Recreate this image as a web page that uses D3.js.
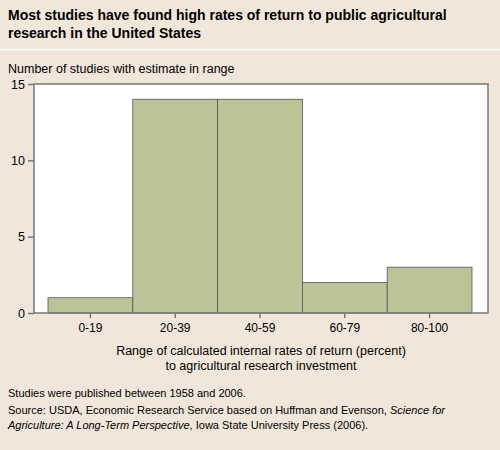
<!DOCTYPE html>
<html><head><meta charset="utf-8">
<script src="https://cdn.jsdelivr.net/npm/d3@7"></script>
<style>body{margin:0;background:#f0e6da;font-family:"Liberation Sans",Arial,sans-serif;}</style>
</head><body>
<svg id="c" width="500" height="450"></svg>
<script>
// data
const categories = ["0-19", "20-39", "40-59", "60-79", "80-100"];
const values = [1, 14, 14, 2, 3];
const yTicks = [0, 5, 10, 15];

const svg = d3.select("#c");
svg.append("rect").attr("width", 500).attr("height", 450).attr("fill", "#f0e6da");
svg.append("line").attr("x1", 0).attr("x2", 500).attr("y1", 49.5).attr("y2", 49.5)
  .attr("stroke", "#fff").attr("stroke-width", 1.5);

svg.append("text").attr("x", 8).attr("y", 20).attr("font-size", 14).attr("font-weight", "bold")
  .text("Most studies have found high rates of return to public agricultural");
svg.append("text").attr("x", 8).attr("y", 38).attr("font-size", 14).attr("font-weight", "bold")
  .text("research in the United States");
svg.append("text").attr("x", 8).attr("y", 73).attr("font-size", 12.5)
  .text("Number of studies with estimate in range");

const pLeft = 34, pRight = 488, pTop = 84, pBottom = 313;
const bx0 = 48, bx1 = 472;

svg.append("rect").attr("x", pLeft).attr("y", pTop).attr("width", pRight - pLeft).attr("height", pBottom - pTop)
  .attr("fill", "#fff");

const x = d3.scaleBand().domain(categories).range([bx0, bx1]).padding(0);
const y = d3.scaleLinear().domain([0, 15]).range([pBottom, pTop]);

svg.selectAll("rect.bar").data(values).enter().append("rect").attr("class", "bar")
  .attr("x", (d, i) => x(categories[i]))
  .attr("y", d => y(d))
  .attr("width", x.bandwidth())
  .attr("height", d => pBottom - y(d))
  .attr("fill", "#bcc397").attr("stroke", "#555").attr("stroke-width", 0.8);

svg.append("rect").attr("x", pLeft).attr("y", pTop).attr("width", pRight - pLeft).attr("height", pBottom - pTop)
  .attr("fill", "none").attr("stroke", "#777").attr("stroke-width", 1.5);

const ya = svg.append("g").attr("transform", `translate(${pLeft},0)`)
  .call(d3.axisLeft(y).tickValues(yTicks).tickSize(6).tickPadding(3));
ya.select(".domain").remove();
ya.selectAll("line").attr("stroke", "#777").attr("stroke-width", 1.5);
ya.selectAll("text").attr("font-size", 12.5).attr("fill", "#000").attr("font-family", "Liberation Sans, Arial, sans-serif");

const xa = svg.append("g").attr("transform", `translate(0,${pBottom})`)
  .call(d3.axisBottom(x).tickSize(5).tickPadding(5));
xa.select(".domain").remove();
xa.selectAll("line").attr("stroke", "#777").attr("stroke-width", 1.5);
xa.selectAll("text").attr("font-size", 12).attr("fill", "#000").attr("font-family", "Liberation Sans, Arial, sans-serif");

svg.append("text").attr("x", (pLeft + pRight) / 2).attr("y", 355).attr("text-anchor", "middle").attr("font-size", 12.5)
  .text("Range of calculated internal rates of return (percent)");
svg.append("text").attr("x", (pLeft + pRight) / 2).attr("y", 370).attr("text-anchor", "middle").attr("font-size", 12.5)
  .text("to agricultural research investment");

svg.append("text").attr("x", 8).attr("y", 397).attr("font-size", 11)
  .text("Studies were published between 1958 and 2006.");
const s = svg.append("text").attr("x", 8).attr("y", 414).attr("font-size", 11);
s.append("tspan").text("Source: USDA, Economic Research Service based on Huffman and Evenson, ");
s.append("tspan").attr("font-style", "italic").text("Science for");
const s2 = svg.append("text").attr("x", 8).attr("y", 429).attr("font-size", 11);
s2.append("tspan").attr("font-style", "italic").text("Agriculture: A Long-Term Perspective");
s2.append("tspan").text(", Iowa State University Press (2006).");
</script>
</body></html>
